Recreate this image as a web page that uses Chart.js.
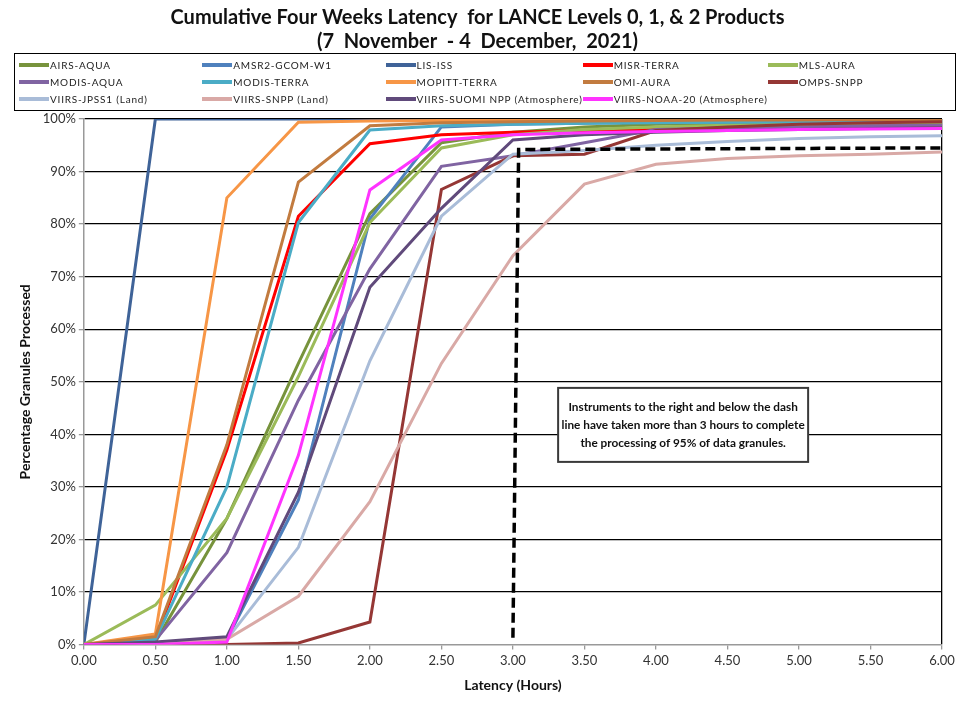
<!DOCTYPE html>
<html>
<head>
<meta charset="utf-8">
<script src="https://cdn.jsdelivr.net/npm/chart.js@4/dist/chart.umd.min.js"></script>
<style>
  html, body { margin: 0; padding: 0; background: #fff; }
  #wrap { position: relative; width: 972px; height: 709px; }
  #legend {
    position: absolute; left: 14px; top: 53px; width: 942px; height: 58px;
    border: 1px solid #000; box-sizing: border-box;
    display: grid; grid-template-columns: repeat(5, 1fr); grid-template-rows: repeat(3, 1fr);
    padding: 2px 4px; margin: 0; list-style: none;
    font-family: Lato, "Open Sans", sans-serif; font-size: 10px; letter-spacing: 0.8px; color: #222;
  }
  #legend li { display: flex; align-items: center; white-space: nowrap; }
  #legend .box { display: inline-block; width: 30px; height: 4px; margin-right: 1px; }
</style>
</head>
<body>
<div id="wrap">
  <canvas id="chart" width="972" height="709"></canvas>
  <ul id="legend"></ul>
</div>
<script>
// latency bins (hours)
const hours = [0, 0.5, 1, 1.5, 2, 2.5, 3, 3.5, 4, 4.5, 5, 5.5, 6];

// cumulative % of granules processed
const airsAqua    = [0, 0.5, 24, 53.5, 82, 95.5, 97.5, 98.5, 99, 99.2, 99.4, 99.5, 99.6];
const amsr2Gcom   = [0, 0.3, 1, 27.5, 81, 98.5, 99, 99.2, 99.4, 99.5, 99.6, 99.7, 99.8];
const lisIss      = [0, 100, 100, 100, 100, 100, 100, 100, 100, 100, 100, 100, 100];
const misrTerra   = [0, 1, 37, 81.5, 95.3, 97, 97.5, 97.8, 98, 98.3, 98.5, 98.7, 98.8];
const mlsAura     = [0, 7.5, 24, 51, 80.3, 94.5, 97, 98, 98.5, 98.8, 99, 99.2, 99.3];
const modisAqua   = [0, 0.8, 17.5, 46.5, 71.5, 91, 93, 95.5, 98, 98.3, 98.5, 98.7, 98.8];
const modisTerra  = [0, 1, 30, 80.3, 97.9, 98.7, 99, 99.2, 99.3, 99.4, 99.5, 99.5, 99.6];
const mopittTerra = [0, 2, 85, 99.4, 99.6, 99.7, 99.8, 99.8, 99.9, 99.9, 100, 100, 100];
const omiAura     = [0, 1.5, 38, 88, 98.7, 99.3, 99.5, 99.6, 99.7, 99.8, 99.8, 99.9, 99.9];
const ompsSnpp    = [0, 0, 0, 0.3, 4.3, 86.6, 93, 93.3, 97.8, 98.5, 99, 99.3, 99.5];
const viirsJpss1  = [0, 0, 1, 18.5, 54, 81.5, 93.3, 94, 95, 95.7, 96.3, 96.6, 96.8];
const viirsSnpp   = [0, 0, 1, 9.2, 27.2, 53.5, 74, 87.6, 91.4, 92.5, 93, 93.3, 93.7];
const viirsSuomi  = [0, 0.5, 1.5, 29, 68, 83, 96, 97, 97.5, 97.8, 98, 98.2, 98.3];
const viirsNoaa20 = [0, 0, 0.5, 36, 86.5, 96, 97, 97.4, 97.6, 97.8, 98, 98.1, 98.2];

const seriesNames = [
  'AIRS-AQUA', 'AMSR2-GCOM-W1', 'LIS-ISS', 'MISR-TERRA', 'MLS-AURA',
  'MODIS-AQUA', 'MODIS-TERRA', 'MOPITT-TERRA', 'OMI-AURA', 'OMPS-SNPP',
  'VIIRS-JPSS1 (Land)', 'VIIRS-SNPP (Land)', 'VIIRS-SUOMI NPP (Atmosphere)', 'VIIRS-NOAA-20 (Atmosphere)'
];
const seriesValues = [
  airsAqua, amsr2Gcom, lisIss, misrTerra, mlsAura,
  modisAqua, modisTerra, mopittTerra, omiAura, ompsSnpp,
  viirsJpss1, viirsSnpp, viirsSuomi, viirsNoaa20
];
const seriesColors = [
  '#77933C', '#4F81BD', '#3F6398', '#FF0000', '#9BBB59',
  '#8064A2', '#4BACC6', '#F79646', '#C27B3F', '#953735',
  '#A9BCD8', '#D9A9A6', '#604A7B', '#FF33FF'
];

// 3 hour / 95% threshold line
const threshHours = [3.0, 3.04, 6.0];
const threshPct   = [1.3, 94.2, 94.5];

const noteLines = [
  'Instruments to the right and below the dash',
  'line have taken more than 3 hours to complete',
  'the processing of 95% of data granules.'
];
const noteAt = [4.19, 41.8]; // hours, percent

const FONT = 'Lato, "Open Sans", sans-serif';

const datasets = seriesNames.map((name, i) => ({
  label: name,
  data: hours.map((h, j) => ({ x: h, y: seriesValues[i][j] })),
  borderColor: seriesColors[i],
  backgroundColor: seriesColors[i],
  borderWidth: 3,
  pointRadius: 0,
  tension: 0,
  order: -i,
}));
datasets.push({
  label: 'threshold',
  data: threshHours.map((h, j) => ({ x: h, y: threshPct[j] })),
  borderColor: '#000',
  borderWidth: 3.5,
  borderDash: [10, 5],
  pointRadius: 0,
  tension: 0,
  order: -100,
});

const noteBox = {
  id: 'noteBox',
  afterDraw(c) {
    const ctx = c.ctx;
    const cx = c.scales.x.getPixelForValue(noteAt[0]);
    const cy = c.scales.y.getPixelForValue(noteAt[1]);
    const w = 250, h = 74;
    ctx.save();
    ctx.fillStyle = '#fff';
    ctx.fillRect(cx - w / 2, cy - h / 2, w, h);
    ctx.strokeStyle = '#3a3a3a';
    ctx.lineWidth = 2;
    ctx.strokeRect(cx - w / 2, cy - h / 2, w, h);
    ctx.fillStyle = '#111';
    ctx.font = 'bold 11.8px ' + FONT;
    ctx.textAlign = 'center';
    ctx.textBaseline = 'middle';
    noteLines.forEach((t, i) => ctx.fillText(t, cx, cy + (i - 1) * 18));
    ctx.restore();
  }
};

const htmlLegend = {
  id: 'htmlLegend',
  afterUpdate(c) {
    const ul = document.getElementById('legend');
    while (ul.firstChild) ul.firstChild.remove();
    c.data.datasets.slice(0, seriesNames.length).forEach((ds) => {
      const li = document.createElement('li');
      const box = document.createElement('span');
      box.className = 'box';
      box.style.background = ds.borderColor;
      const label = document.createElement('span');
      label.textContent = ds.label;
      li.appendChild(box);
      li.appendChild(label);
      ul.appendChild(li);
    });
  }
};

new Chart(document.getElementById('chart'), {
  type: 'line',
  data: { datasets: datasets },
  options: {
    responsive: false,
    animation: false,
    layout: { padding: { left: 13, right: 30, bottom: 11 } },
    scales: {
      x: {
        type: 'linear',
        min: 0,
        max: 6,
        border: { color: '#999', width: 1.5 },
        grid: {
          color: (ctx) => (ctx.tick && ctx.tick.value === 6 ? '#000' : 'rgba(0,0,0,0)'),
          lineWidth: 1.3,
          tickColor: '#999',
          tickLength: 5,
        },
        ticks: {
          stepSize: 0.5,
          color: '#333',
          font: { family: FONT, size: 13 },
          padding: 3,
          maxRotation: 0,
          callback: (v) => Number(v).toFixed(2),
        },
        title: {
          display: true,
          text: 'Latency (Hours)',
          color: '#111',
          font: { family: FONT, size: 14, weight: 'bold' },
          padding: { top: 6 },
        },
      },
      y: {
        min: 0,
        max: 100,
        border: { color: '#999', width: 1.5 },
        grid: {
          color: (ctx) => (ctx.tick && ctx.tick.value === 0 ? 'rgba(0,0,0,0)' : '#000'),
          lineWidth: 1.3,
          tickColor: '#999',
          tickLength: 5,
        },
        ticks: {
          stepSize: 10,
          color: '#333',
          font: { family: FONT, size: 13 },
          padding: 3,
          callback: (v) => v + '%',
        },
        title: {
          display: true,
          text: 'Percentage Granules Processed',
          color: '#111',
          font: { family: FONT, size: 14, weight: 'bold' },
          padding: { bottom: 6 },
        },
      },
    },
    plugins: {
      legend: { display: false },
      tooltip: { enabled: false },
      title: {
        display: true,
        text: 'Cumulative Four Weeks Latency  for LANCE Levels 0, 1, & 2 Products',
        color: '#111',
        font: { family: FONT, size: 20, weight: 'bold' },
        padding: { top: 6, bottom: 0 },
      },
      subtitle: {
        display: true,
        text: '(7  November  - 4  December,  2021)',
        color: '#111',
        font: { family: FONT, size: 20, weight: 'bold' },
        padding: { top: 0, bottom: 65 },
      },
    },
  },
  plugins: [htmlLegend, noteBox],
});
</script>
</body>
</html>
